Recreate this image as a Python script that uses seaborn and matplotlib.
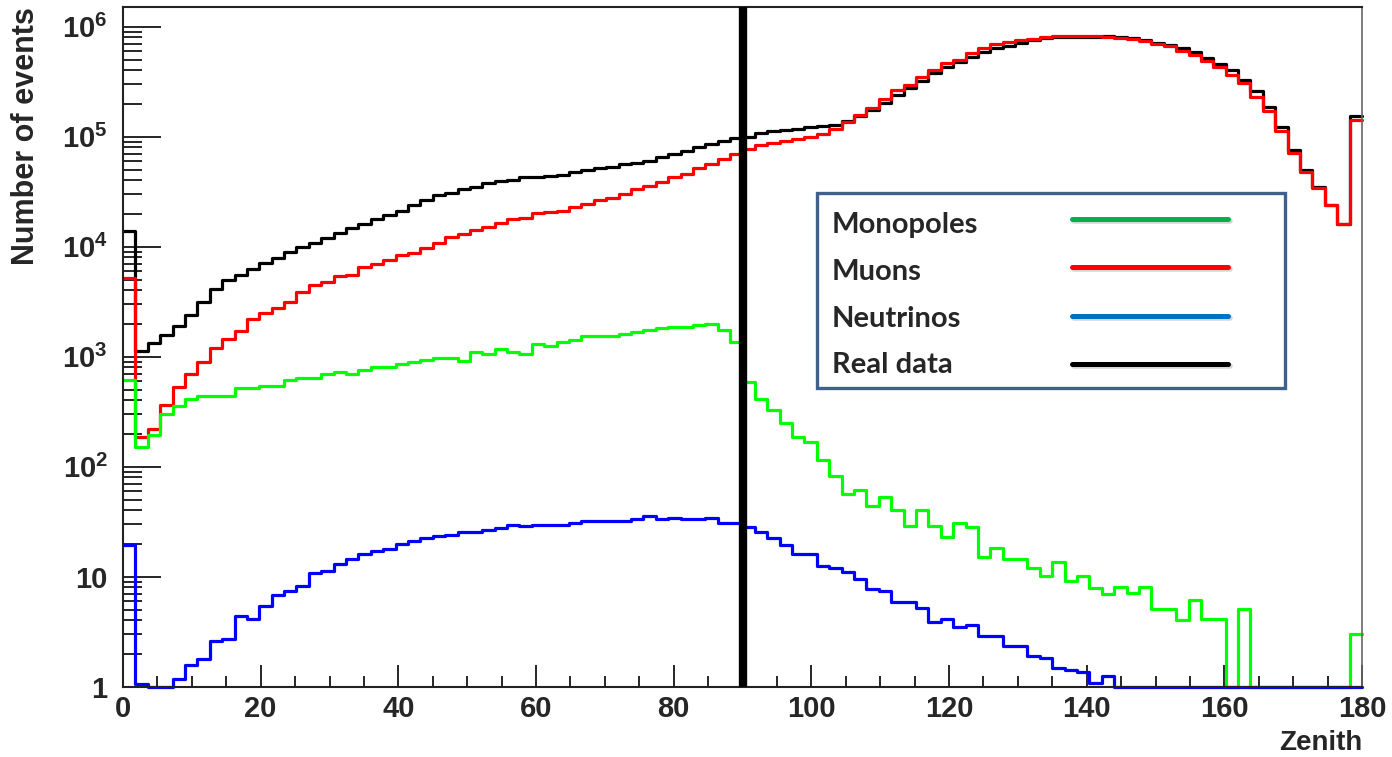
import numpy as np
import pandas as pd
import matplotlib
matplotlib.use('Agg')
import matplotlib.pyplot as plt
from matplotlib.lines import Line2D
from matplotlib.patches import Rectangle
from matplotlib.ticker import MultipleLocator, LogLocator, NullFormatter
import seaborn as sns

# Datos: 100 bins de 1.8 grados (Zenith 0-180)
bin_edges = list(np.linspace(0, 180, 101))

real_data = [13900, 1120, 1340, 1580, 1890, 2410, 3160, 4130, 4950, 5560,
             6250, 7090, 7970, 8960, 9980, 10900, 12100, 13400, 14900, 16100,
             17900, 19600, 21100, 24100, 26400, 29400, 30700, 33600, 35200, 37800,
             39200, 40300, 42900, 43300, 44100, 45300, 48200, 49600, 51400, 52800,
             56200, 57700, 60400, 64900, 69100, 73600, 80500, 85100, 90600, 97300,
             100000, 108400, 112200, 114800, 117500, 121600, 124500, 128800, 139600, 154900,
             175800, 201800, 237100, 275400, 323600, 375800, 431500, 478600, 533300, 583400,
             638300, 674500, 717800, 751600, 785200, 807200, 807200, 807200, 807200, 822400,
             807200, 785200, 751600, 717800, 687100, 638000, 583000, 524000, 458000, 400000,
             328000, 259000, 186000, 122000, 75700, 49600, 35200, 24100, 16000, 155000]

muons = [5220, 187, 222, 367, 526, 702, 902, 1200, 1440, 1730,
         2220, 2470, 2760, 3160, 3880, 4440, 4820, 5410, 5560, 6540,
         6970, 7490, 8340, 8730, 9800, 10900, 12200, 13100, 14300, 14960,
         16400, 17900, 18400, 20100, 20500, 21100, 23100, 24600, 26400, 27600,
         29900, 33600, 35800, 38500, 42900, 46100, 51400, 56700, 63200, 69100,
         77600, 83200, 87100, 91200, 95500, 100000, 104700, 117500, 134900, 158500,
         184100, 218800, 263000, 295100, 346700, 407400, 467700, 501200, 582100, 638300,
         691800, 724400, 758600, 776200, 799800, 822400, 822400, 822400, 822400, 807200,
         785200, 765600, 737900, 699800, 663700, 600000, 548000, 488000, 426000, 365000,
         305000, 229000, 170000, 113000, 71000, 47400, 34300, 23900, 15950, 142000]

monopoles = [613, 152, 194, 304, 357, 409, 440, 440, 440, 516,
             516, 542, 542, 614, 636, 636, 697, 731, 697, 757,
             811, 811, 859, 901, 930, 965, 975, 920, 1100, 1055,
             1180, 1105, 1055, 1300, 1255, 1360, 1410, 1540, 1540, 1540,
             1620, 1685, 1740, 1810, 1850, 1850, 1930, 1980, 1760, 1370,
             590, 410, 325, 249, 188, 166, 115, 82, 56, 61,
             43.5, 53.5, 40.5, 29, 40, 29, 22.8, 30.8, 28.5, 15.2,
             18.1, 14.4, 14.4, 11.9, 10.1, 13.5, 9.2, 10.2, 7.9, 7.0,
             8.0, 7.1, 8.0, 5.1, 5.1, 4.0, 6.1, 4.1, 4.1, 1,
             5.05, 1, 1, 1, 1, 1, 1, 1, 1, 3.0]

neutrinos = [19.5, 1.05, 1, 1, 1.17, 1.57, 1.8, 2.6, 2.69, 4.42,
             4.15, 5.43, 6.8, 7.45, 8.15, 10.7, 11.2, 13.0, 14.6, 16.0,
             17.2, 18.0, 19.7, 20.9, 22.3, 23.4, 24.0, 25.6, 25.6, 26.7,
             27.5, 29.5, 28.7, 29.5, 29.5, 29.5, 30.9, 32.0, 32.0, 32.0,
             32.0, 33.5, 35.3, 33.5, 34.4, 33.5, 33.5, 34.4, 30.9, 30.9,
             28.5, 25.6, 22.3, 19.4, 16.0, 16.0, 12.5, 12.1, 11.0, 9.5,
             7.7, 7.4, 5.9, 5.9, 5.15, 3.9, 4.1, 3.52, 3.64, 2.89,
             2.89, 2.36, 2.36, 1.9, 1.84, 1.47, 1.42, 1.37, 1.09, 1.25,
             1, 1, 1, 1, 1, 1, 1, 1, 1, 1,
             1, 1, 1, 1, 1, 1, 1, 1, 1, 1]

y_ticks = [1, 10, 1e2, 1e3, 1e4, 1e5, 1e6]
y_tick_labels = ['1', '10', '$10^{2}$', '$10^{3}$', '$10^{4}$', '$10^{5}$', '$10^{6}$']

legend_labels = ['Monopoles', 'Muons', 'Neutrinos', 'Real data']
legend_colors = ['#00b050', '#ff0000', '#0070c0', '#000000']

# Estilo
sns.set_style('ticks')
plt.rcParams['font.family'] = ['Liberation Sans', 'DejaVu Sans']
plt.rcParams['font.weight'] = 'bold'
plt.rcParams['mathtext.fontset'] = 'custom'
plt.rcParams['mathtext.rm'] = 'Liberation Sans:bold'
plt.rcParams['mathtext.it'] = 'Liberation Sans:bold'
plt.rcParams['mathtext.bf'] = 'Liberation Sans:bold'

W, H = 1392, 757
fig = plt.figure(figsize=(W / 100, H / 100), dpi=100)
ax = fig.add_axes([123 / W, 1 - 686.7 / H, 1239 / W, 679.7 / H])

centers = [(a + b) / 2 for a, b in zip(bin_edges[:-1], bin_edges[1:])]
series = [(real_data, '#000000'), (muons, '#ff0000'),
          (monopoles, '#00ff00'), (neutrinos, '#0000ff')]
for vals, col in series:
    df = pd.DataFrame({'zenith': centers, 'events': vals})
    sns.histplot(data=df, x='zenith', weights='events', bins=bin_edges, element='step',
                 fill=False, color=col, linewidth=2.3, ax=ax, clip_on=False)

ax.set_yscale('log')
ax.set_xlim(0, 180)
ax.set_ylim(1, 1.51e6)

# linea vertical en 90 grados
ax.axvline(90, color='black', lw=6, zorder=6)

# ejes estilo ROOT
ax.xaxis.set_major_locator(MultipleLocator(20))
ax.xaxis.set_minor_locator(MultipleLocator(5))
ax.set_yticks(y_ticks)
ax.set_yticklabels(y_tick_labels)
ax.yaxis.set_minor_locator(LogLocator(base=10, subs=np.arange(2, 10), numticks=20))
ax.yaxis.set_minor_formatter(NullFormatter())
ax.tick_params(axis='y', which='major', direction='in', length=27, width=1.4,
               labelsize=21, pad=11, left=True, right=False)
ax.tick_params(axis='y', which='minor', direction='in', length=14, width=1.4, left=True, right=False)
ax.tick_params(axis='x', which='major', direction='in', length=16, width=1.4,
               labelsize=21, pad=6, bottom=True, top=False)
ax.tick_params(axis='x', which='minor', direction='in', length=8, width=1.4, bottom=True, top=False)
for side in ['left', 'bottom', 'top']:
    ax.spines[side].set_color('#222222')
    ax.spines[side].set_linewidth(1.5)
ax.spines['right'].set_color('#666666')
ax.spines['right'].set_linewidth(1.2)

ax.set_ylabel('Number of events', fontsize=22, fontweight='bold', loc='top')
ax.yaxis.set_label_coords(-0.066, 1.0)
ax.set_xlabel('Zenith', fontsize=20, fontweight='bold', loc='right')
ax.xaxis.set_label_coords(1.0, -0.064)

# Leyenda dibujada a mano (texto a la izquierda, linea a la derecha)
def fx(px):
    return px / W

def fy(py):
    return 1 - py / H

fig.add_artist(Rectangle((fx(817), fy(388)), 468 / W, 195 / H, transform=fig.transFigure,
                         facecolor='white', edgecolor='#3f5f8e', lw=2.4, zorder=10))
baselines = [233, 280, 327, 373]
line_ys = [219, 267, 316, 364]
for lab, col, yb, yl in zip(legend_labels, legend_colors, baselines, line_ys):
    fig.text(fx(832), fy(yb), lab, fontsize=21, fontweight='bold',
             family=['Lato', 'DejaVu Sans'], va='baseline', ha='left', zorder=11)
    fig.add_artist(Line2D([fx(1074), fx(1230)], [fy(yl + 2), fy(yl + 2)], transform=fig.transFigure,
                          color='#bbbbbb', lw=4, alpha=0.6, zorder=11))
    fig.add_artist(Line2D([fx(1072), fx(1228)], [fy(yl), fy(yl)], transform=fig.transFigure,
                          color=col, lw=3.6, zorder=12))

fig.savefig('out.png', dpi=100, facecolor='white')
